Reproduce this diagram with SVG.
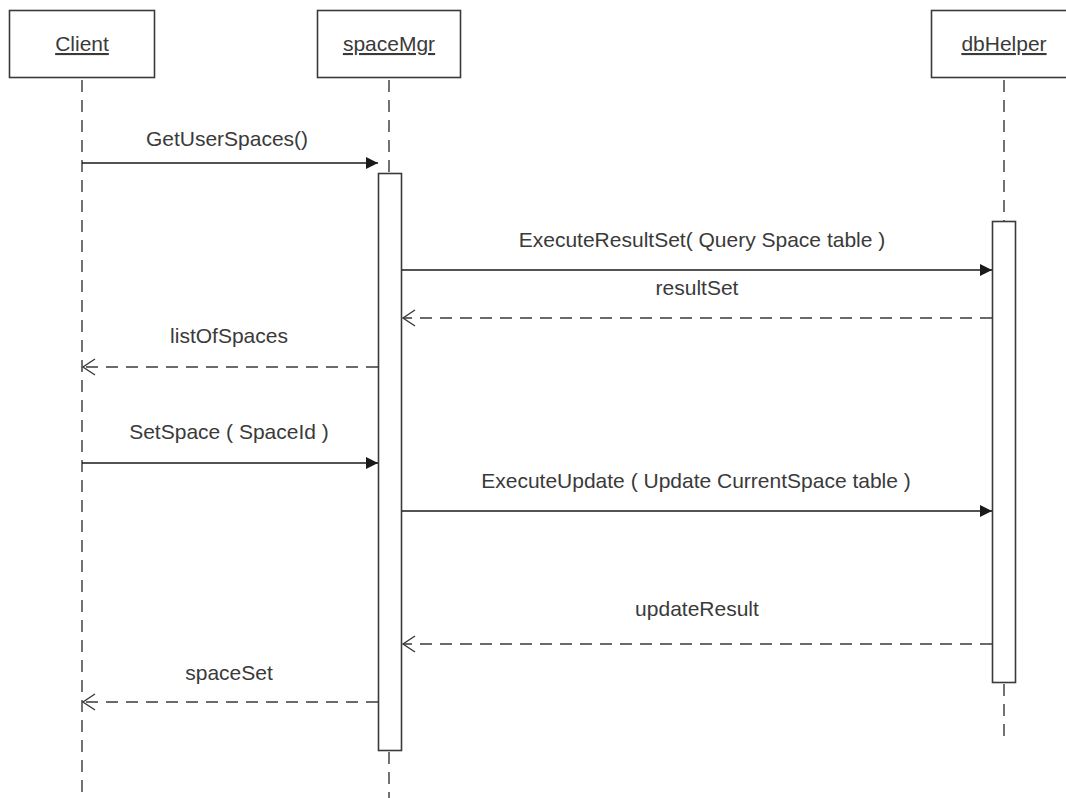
<svg xmlns="http://www.w3.org/2000/svg" width="1066" height="798" viewBox="0 0 1066 798">
<defs>
<style>
.box{fill:#fff;stroke:#3a3a3a;stroke-width:1.6}
.act{fill:#fff;stroke:#3a3a3a;stroke-width:1.6}
.life{stroke:#505050;stroke-width:1.6;stroke-dasharray:12 8;fill:none}
.msg{stroke:#1a1a1a;stroke-width:1.6;fill:none}
.ret{stroke:#3a3a3a;stroke-width:1.6;stroke-dasharray:12 8;fill:none}
text{font-family:"Liberation Sans",Arial,sans-serif;font-size:21px;fill:#3a3a3a;text-anchor:middle}
.ul{text-decoration:underline}
</style>
<marker id="fill" markerWidth="14" markerHeight="14" refX="12" refY="6" orient="auto" markerUnits="userSpaceOnUse">
<path d="M0,0 L12,6 L0,12 Z" fill="#1a1a1a"/>
</marker>
<marker id="open" markerWidth="16" markerHeight="20" refX="13" refY="9" orient="auto" markerUnits="userSpaceOnUse">
<path d="M1,1 L13,9 L1,17" fill="none" stroke="#3a3a3a" stroke-width="1.4"/>
</marker>
</defs>

<g id="lifelines">
<line class="life" x1="82" y1="80" x2="82" y2="798"/>
<line class="life" x1="389" y1="80" x2="389" y2="173"/>
<line class="life" x1="389" y1="752" x2="389" y2="798"/>
<line class="life" x1="1004" y1="80" x2="1004" y2="221"/>
<line class="life" x1="1004" y1="684" x2="1004" y2="744"/>
</g>

<g id="node-client">
<rect class="box" x="9.5" y="10.5" width="145" height="67"/>
<text class="ul" x="82" y="51">Client</text>
</g>
<g id="node-spaceMgr">
<rect class="box" x="317.5" y="10.5" width="143" height="67"/>
<text class="ul" x="389" y="51">spaceMgr</text>
</g>
<g id="node-dbHelper">
<rect class="box" x="931.5" y="10.5" width="145" height="67"/>
<text class="ul" x="1004" y="51">dbHelper</text>
</g>

<g id="activation-spaceMgr">
<rect class="act" x="378.5" y="173.5" width="23" height="577"/>
</g>
<g id="activation-dbHelper">
<rect class="act" x="992.5" y="221.5" width="23" height="461"/>
</g>

<g id="connectors">
<line class="msg" x1="82" y1="163" x2="378" y2="163" marker-end="url(#fill)"/>
<line class="msg" x1="402" y1="270" x2="992" y2="270" marker-end="url(#fill)"/>
<line class="ret" x1="992" y1="318" x2="403" y2="318" marker-end="url(#open)"/>
<line class="ret" x1="378" y1="367" x2="83" y2="367" marker-end="url(#open)"/>
<line class="msg" x1="82" y1="463" x2="378" y2="463" marker-end="url(#fill)"/>
<line class="msg" x1="402" y1="511" x2="992" y2="511" marker-end="url(#fill)"/>
<line class="ret" x1="992" y1="644" x2="403" y2="644" marker-end="url(#open)"/>
<line class="ret" x1="378" y1="702" x2="83" y2="702" marker-end="url(#open)"/>
</g>

<g id="labels">
<text x="227" y="146">GetUserSpaces()</text>
<text x="702" y="247">ExecuteResultSet( Query Space table )</text>
<text x="697" y="295">resultSet</text>
<text x="229" y="343">listOfSpaces</text>
<text x="229" y="439">SetSpace ( SpaceId )</text>
<text x="696" y="488">ExecuteUpdate ( Update CurrentSpace table )</text>
<text x="697" y="616">updateResult</text>
<text x="229" y="680">spaceSet</text>
</g>
</svg>
